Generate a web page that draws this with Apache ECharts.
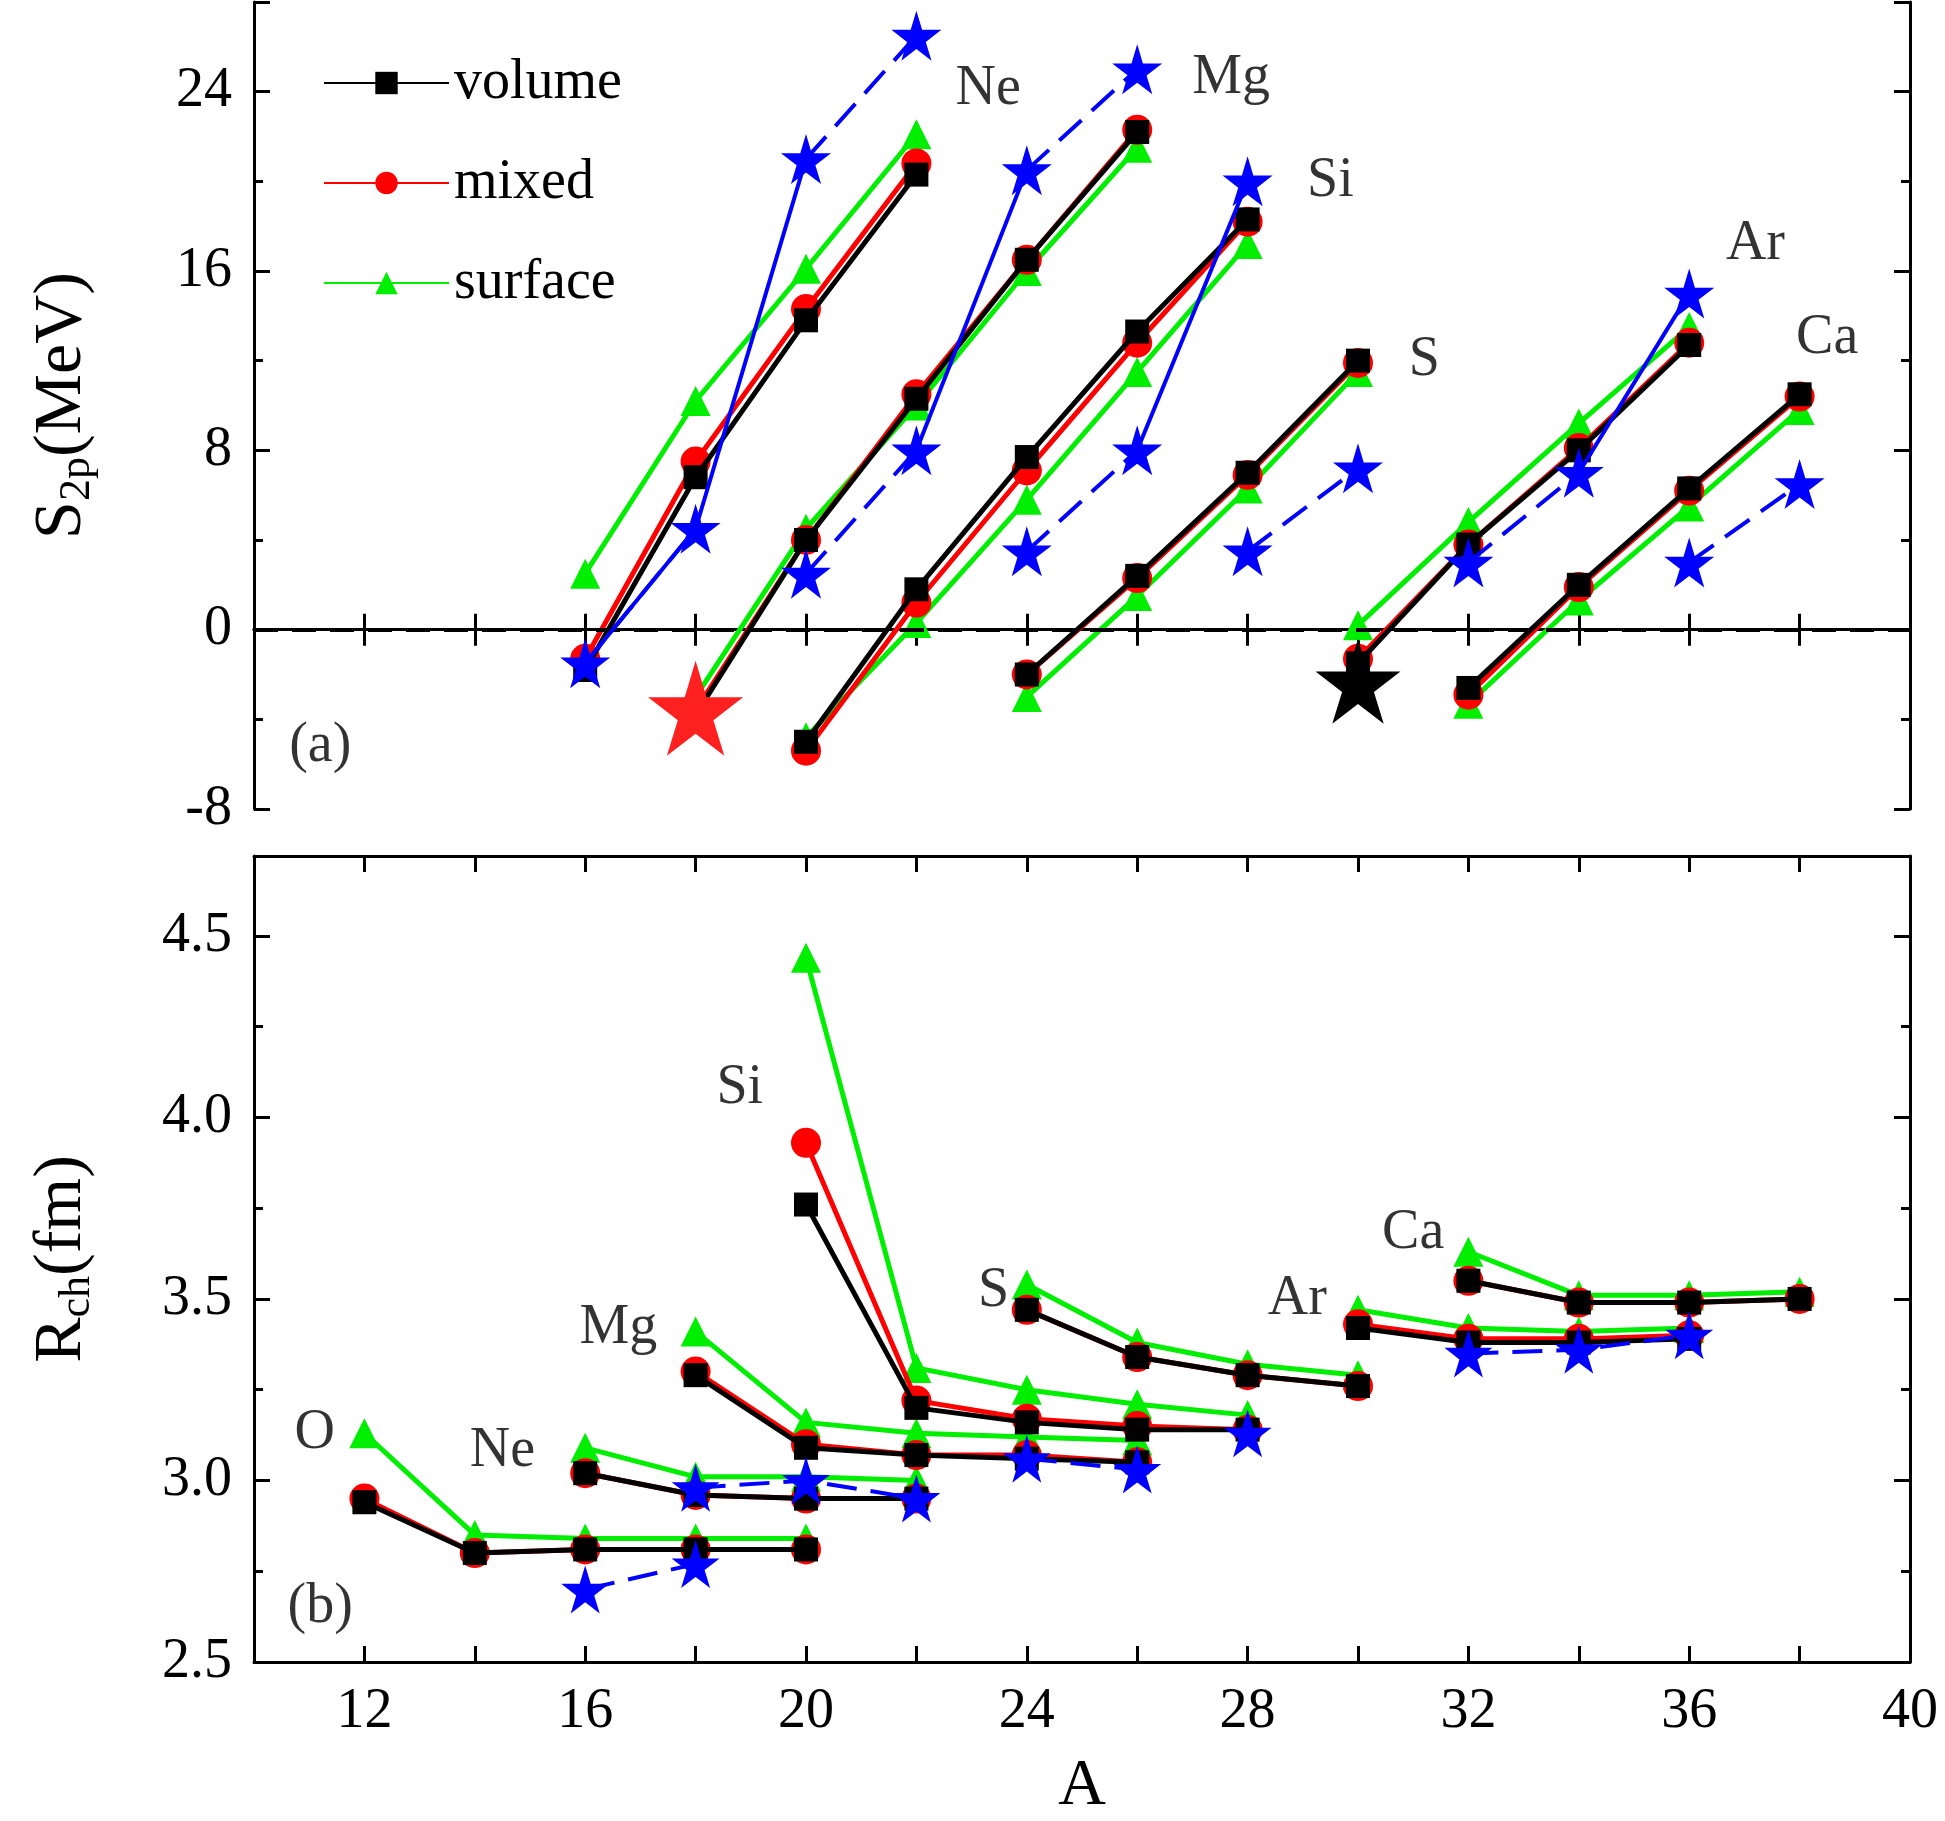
<!DOCTYPE html>
<html>
<head>
<meta charset="utf-8">
<script src="https://cdn.jsdelivr.net/npm/echarts@6/dist/echarts.min.js"></script>
<style>html,body{margin:0;padding:0;background:#fff}#chart{width:1945px;height:1821px}</style>
</head>
<body>
<div id="chart"></div>
<script>
// ---- panel (a): S2p, each chain: [A values], volume, mixed, surface
var s2pChains = [
  {el: 'Ne', A: [16, 18, 20, 22], vol: [-1.8, 6.8, 13.8, 20.3], mix: [-1.3, 7.5, 14.3, 20.8], sur: [2.5, 10.2, 16.1, 22.1]},
  {el: 'Mg', A: [18, 20, 22, 24, 26], vol: [-3.8, 4.0, 10.3, 16.5, 22.2], mix: [-3.6, 4.0, 10.5, 16.5, 22.3], sur: [-3.0, 4.5, 10.0, 16.0, 21.5]},
  {el: 'Si', A: [20, 22, 24, 26, 28], vol: [-5.0, 1.8, 7.7, 13.3, 18.3], mix: [-5.4, 1.2, 7.1, 12.8, 18.2], sur: [-4.8, 0.3, 5.8, 11.5, 17.2]},
  {el: 'S', A: [24, 26, 28, 30], vol: [-2.0, 2.4, 7.0, 12.0], mix: [-2.0, 2.3, 6.9, 11.9], sur: [-3.0, 1.5, 6.3, 11.5]},
  {el: 'Ar', A: [30, 32, 34, 36], vol: [-1.5, 3.8, 8.0, 12.7], mix: [-1.3, 3.8, 8.1, 12.8], sur: [0.2, 4.8, 9.2, 13.5]},
  {el: 'Ca', A: [32, 34, 36, 38], vol: [-2.6, 2.0, 6.3, 10.5], mix: [-2.9, 1.9, 6.2, 10.4], sur: [-3.3, 1.3, 5.5, 9.8]}
];
// blue stars, dashed pairs
var s2pStarDashed = [
  [[16, -1.5], [18, 4.5]], [[20, 21.0], [22, 26.5]],
  [[20, 2.5], [22, 8.0]], [[24, 20.5], [26, 25.0]],
  [[24, 3.5], [26, 8.0]], [[28, 20.0]],
  [[28, 3.5], [30, 7.2]],
  [[32, 3.0], [34, 7.0]], [[36, 15.0]],
  [[36, 3.0], [38, 6.5]]
];
// solid jumps
var s2pStarSolid = [
  [[18, 4.5], [20, 21.0]], [[22, 8.0], [24, 20.5]], [[26, 8.0], [28, 20.0]], [[34, 7.0], [36, 15.0]], [[16, -1.5], [18, 4.5]]
];
var s2pRedStar = [[18, -3.5]];
var s2pBlackStar = [[30, -2.3]];
var s2pLabels = [[23.3, 24.1, 'Ne'], [27.7, 24.6, 'Mg'], [29.5, 20.0, 'Si'], [31.2, 12.0, 'S'], [37.2, 17.2, 'Ar'], [38.5, 13.0, 'Ca']];

// ---- panel (b): Rch
var rchChains = [
  {el: 'O', A: [12, 14, 16, 18, 20], vol: [2.94, 2.80, 2.81, 2.81, 2.81], mix: [2.95, 2.80, 2.81, 2.81, 2.81], sur: [3.13, 2.85, 2.84, 2.84, 2.84]},
  {el: 'Ne', A: [16, 18, 20, 22], vol: [3.02, 2.96, 2.95, 2.95], mix: [3.02, 2.96, 2.95, 2.95], sur: [3.09, 3.01, 3.01, 3.00]},
  {el: 'Mg', A: [18, 20, 22, 24, 26], vol: [3.29, 3.09, 3.07, 3.06, 3.05], mix: [3.30, 3.10, 3.07, 3.07, 3.05], sur: [3.41, 3.16, 3.13, 3.12, 3.11]},
  {el: 'Si', A: [20, 22, 24, 26, 28], vol: [3.76, 3.20, 3.16, 3.14, 3.14], mix: [3.93, 3.22, 3.17, 3.15, 3.14], sur: [4.44, 3.31, 3.25, 3.21, 3.18]},
  {el: 'S', A: [24, 26, 28, 30], vol: [3.47, 3.34, 3.29, 3.26], mix: [3.47, 3.34, 3.29, 3.26], sur: [3.54, 3.38, 3.32, 3.29]},
  {el: 'Ar', A: [30, 32, 34, 36], vol: [3.42, 3.38, 3.38, 3.39], mix: [3.43, 3.39, 3.39, 3.40], sur: [3.47, 3.42, 3.41, 3.42]},
  {el: 'Ca', A: [32, 34, 36, 38], vol: [3.55, 3.49, 3.49, 3.50], mix: [3.55, 3.49, 3.49, 3.50], sur: [3.63, 3.51, 3.51, 3.52]}
];
var rchStars = [
  [[16, 2.70], [18, 2.77]],
  [[18, 2.98], [20, 3.00], [22, 2.95]],
  [[24, 3.06], [26, 3.03]],
  [[28, 3.13]],
  [[32, 3.35], [34, 3.36], [36, 3.40]]
];
var rchLabels = [[11.1, 3.13, 'O'], [14.5, 3.08, 'Ne'], [16.6, 3.42, 'Mg'], [18.8, 4.08, 'Si'], [23.4, 3.52, 'S'], [28.9, 3.50, 'Ar'], [31.0, 3.68, 'Ca']];

var STAR = 'path://M50,0 L61,35 L98,35 L68,57 L79,91 L50,70 L21,91 L32,57 L2,35 L39,35 Z';
var FONT = "'Liberation Serif', 'DejaVu Serif', serif";
var models = [
  {key: 'vol', name: 'volume', color: '#000000', symbol: 'rect', size: 24},
  {key: 'mix', name: 'mixed', color: '#ff0000', symbol: 'circle', size: 30},
  {key: 'sur', name: 'surface', color: '#00ee00', symbol: 'triangle', size: 30}
];

function zip(xs, ys) {
  return xs.map(function (x, i) { return [x, ys[i]]; });
}

var series = [];
function addChains(chains, g) {
  chains.forEach(function (c) {
    models.forEach(function (m) {
      series.push({
        type: 'line', name: m.name, xAxisIndex: g * 2, yAxisIndex: g * 2,
        data: zip(c.A, c[m.key]), symbol: m.symbol, symbolSize: m.size,
        itemStyle: {color: m.color, opacity: 1}, lineStyle: {color: m.color, width: 5},
        z: m.key === 'sur' ? 3 : (m.key === 'mix' ? 4 : 5)
      });
    });
  });
}
function addStars(list, g, dashed, showSym, size) {
  list.forEach(function (d) {
    series.push({
      type: 'line', xAxisIndex: g * 2, yAxisIndex: g * 2, data: d,
      symbol: showSym ? STAR : 'none', symbolSize: size || 50,
      itemStyle: {color: '#0000ff', opacity: 1},
      lineStyle: {color: '#0000ff', width: 4, type: dashed ? [30, 14] : 'solid'}, z: 6
    });
  });
}
function addLabels(list, g) {
  series.push({
    type: 'scatter', xAxisIndex: g * 2, yAxisIndex: g * 2, symbolSize: 0, silent: true,
    data: list.map(function (l) { return {value: [l[0], l[1]], label: {formatter: l[2]}}; }),
    label: {show: true, position: 'inside', fontFamily: FONT, fontSize: 56, color: '#000'}
  });
}

series.push({type: 'line', xAxisIndex: 0, yAxisIndex: 0, data: [[10, null]], symbol: 'none', markLine: {
  silent: true, symbol: 'none', label: {show: false},
  lineStyle: {color: '#000', type: [24, 14], width: 4}, data: [{yAxis: 0}]}});
addChains(s2pChains, 0);
addStars(s2pStarSolid, 0, false, false);
addStars(s2pStarDashed, 0, true, true);
series.push({type: 'scatter', xAxisIndex: 0, yAxisIndex: 0, data: s2pRedStar, symbol: STAR, symbolSize: 95, itemStyle: {color: '#ff2020', opacity: 1}, z: 8});
series.push({type: 'scatter', xAxisIndex: 0, yAxisIndex: 0, data: s2pBlackStar, symbol: STAR, symbolSize: 85, itemStyle: {color: '#000', opacity: 1}, z: 8});
addLabels(s2pLabels, 0);
addLabels([[11.2, -5.2, '(a)']], 0);

addChains(rchChains, 1);
addStars(rchStars, 1, true, true, 48);
addLabels(rchLabels, 1);
addLabels([[11.2, 2.65, '(b)']], 1);

function xAx(g, labels) {
  return [{
    gridIndex: g, type: 'value', min: 10, max: 40, interval: 2,
    axisLine: {lineStyle: {color: '#000', width: 3}}, axisTick: {inside: true, length: 16, lineStyle: {width: 3}},
    splitLine: {show: false},
    axisLabel: {show: labels, fontFamily: FONT, fontSize: 56, color: '#000', margin: 22,
      formatter: function (v) { return v % 4 === 0 && v > 10 ? v : ''; }},
    name: labels ? 'A' : '', nameLocation: 'middle', nameGap: 92,
    nameTextStyle: {fontFamily: FONT, fontSize: 66, color: '#000'}
  }, {
    gridIndex: g, type: 'value', min: 10, max: 40, interval: 2, position: 'top',
    axisLine: {lineStyle: {color: '#000', width: 3}}, axisTick: {inside: true, length: 16, lineStyle: {width: 3}},
    axisLabel: {show: false}, splitLine: {show: false}
  }];
}
function yAx(g, min, max, interval, name, fmt) {
  var base = {
    gridIndex: g, type: 'value', min: min, max: max, interval: interval,
    axisLine: {show: true, lineStyle: {color: '#000', width: 3}},
    axisTick: {show: true, inside: true, length: 16, lineStyle: {width: 3}},
    minorTick: {show: true, splitNumber: 2, length: 9, lineStyle: {color: '#000', width: 3}},
    splitLine: {show: false}
  };
  var left = Object.assign({}, base, {
    axisLabel: {fontFamily: FONT, fontSize: 56, color: '#000', margin: 22, formatter: fmt},
    name: name, nameLocation: 'middle', nameGap: 155, nameRotate: 90,
    nameTextStyle: {fontFamily: FONT, fontSize: 68, color: '#000',
      rich: {sub: {fontFamily: FONT, fontSize: 44, color: '#000', verticalAlign: 'bottom', padding: [30, 0, 0, 0]}}}
  });
  var right = Object.assign({}, base, {position: 'right', axisLabel: {show: false}});
  return [left, right];
}

var option = {
  backgroundColor: '#fff',
  animation: false,
  grid: [
    {left: 254, right: 35, top: 2, height: 807},
    {left: 254, right: 35, top: 856, height: 808}
  ],
  legend: {
    data: ['volume', 'mixed', 'surface'], orient: 'vertical', left: 318, top: 50,
    itemWidth: 125, itemHeight: 28, itemGap: 44,
    textStyle: {fontFamily: FONT, fontSize: 56, color: '#000'}
  },
  xAxis: xAx(0, false).concat(xAx(1, true)),
  yAxis: yAx(0, -8, 28, 8, 'S{sub|2p}(MeV)', function (v) { return v <= 24 ? v : ''; })
    .concat(yAx(1, 2.5, 4.72, 0.5, 'R{sub|ch}(fm)', function (v) { return v <= 4.5 ? v.toFixed(1) : ''; })),
  series: series
};

var chart = echarts.init(document.getElementById('chart'));
chart.setOption(option);
</script>
</body>
</html>
